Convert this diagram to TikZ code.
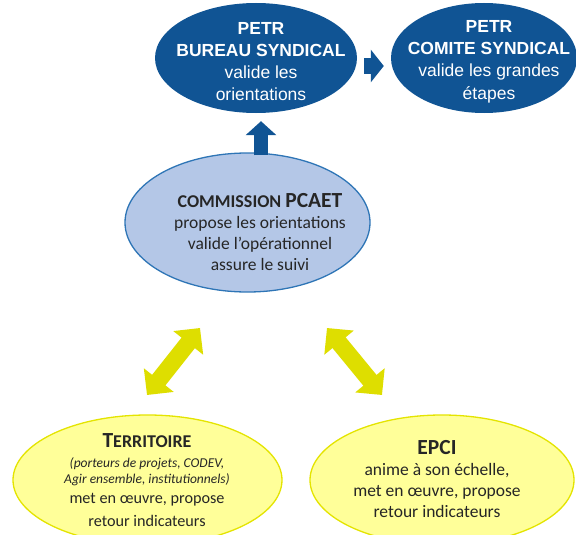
\documentclass[tikz,border=0pt]{standalone}
\usepackage{fontspec}
\setmainfont{Carlito}
\newfontfamily\arialf{Liberation Sans}
\usetikzlibrary{shapes.geometric,arrows.meta}
\definecolor{petrblue}{RGB}{16,84,148}
\definecolor{commfill}{RGB}{180,199,231}
\definecolor{commedge}{RGB}{46,117,182}
\definecolor{yelfill}{RGB}{255,255,153}
\definecolor{yeledge}{RGB}{228,228,0}
\definecolor{yelarrow}{RGB}{222,222,0}
\newcommand{\itl}{\itshape\fontsize{13.5}{15}\selectfont}
\newcommand{\regl}{\upshape\fontsize{16.2}{22}\selectfont}
\tikzset{
  petrell/.style={ellipse, fill=petrblue, draw=none, inner sep=0pt},
  commell/.style={ellipse, fill=commfill, draw=commedge, line width=1.3pt, inner sep=0pt},
  yelell/.style={ellipse, fill=yelfill, draw=yeledge, line width=1.3pt, inner sep=0pt},
  petrtxt/.style={text=white, align=center, font=\arialf\fontsize{17.5}{22.2}\selectfont, inner sep=0pt},
  lowtxt/.style={text=black!85, align=center, inner sep=0pt},
  bluearrow/.style={draw=petrblue, line width=14pt, -{Triangle[width=30pt,length=14pt]}},
  yelarr/.style={draw=yelarrow, line width=17pt, {Triangle[width=37pt,length=19pt]}-{Triangle[width=37pt,length=19pt]}}
}
\begin{document}
\begin{tikzpicture}[x=1pt,y=-1pt]
\useasboundingbox (0,0) rectangle (576,535);
% ellipses
\node[petrell, minimum width=202pt, minimum height=110pt] (bureau) at (256,58) {};
\node[petrell, minimum width=186pt, minimum height=110pt] (comite) at (484,58) {};
\node[commell, minimum width=245pt, minimum height=139pt] (comm) at (247.5,222.5) {};
\node[yelell, minimum width=269pt, minimum height=130pt] (terr) at (147.5,480) {};
\node[yelell, minimum width=264pt, minimum height=130pt] (epci) at (442,480) {};
% texts
\node[petrtxt] (bureautxt) at (261,61.5) {\textbf{PETR}\\\textbf{BUREAU SYNDICAL}\\valide les\\orientations};
\node[petrtxt] (comitetxt) at (489,61.5) {\textbf{PETR}\\\textbf{COMITE SYNDICAL}\\valide les grandes\\étapes};
\node[lowtxt, font=\fontsize{17.5}{21}\selectfont] (commtxt) at (260,232)
  {\textbf{\fontsize{18}{21}\selectfont COMMISSION \fontsize{21.5}{21}\selectfont PCAET}\\\fontsize{17.5}{21}\selectfont propose les orientations\\valide l’opérationnel\\assure le suivi};
\node[lowtxt, font=\fontsize{16.2}{22}\selectfont] (terrtxt) at (147,480)
  {\textbf{\fontsize{21.5}{22}\selectfont T\fontsize{18}{22}\selectfont ERRITOIRE}\\[-2pt]
   \itl (porteurs de projets, CODEV,\\[-6pt]
   \itl Agir ensemble, institutionnels)\\[-2pt]
   \regl met en œuvre, propose\\[1pt]
   \regl retour indicateurs};
\node[lowtxt, font=\fontsize{17.5}{21}\selectfont] (epcitxt) at (437,479)
  {\textbf{\fontsize{21.5}{24}\selectfont EPCI}\\\fontsize{17.5}{21}\selectfont anime à son échelle,\\met en œuvre, propose\\retour indicateurs};
% connectors
\coordinate (upS) at ([xshift=13.5pt,yshift=-3pt]comm.north);
\coordinate (upE) at ([xshift=5pt,yshift=-8pt]bureau.south);
\draw[bluearrow] (upS) -- (upE);
\coordinate (rtS) at ([xshift=7pt,yshift=-8pt]bureau.east);
\coordinate (rtE) at ([xshift=-7pt,yshift=-8pt]comite.west);
\draw[bluearrow, line width=16pt, -{Triangle[width=32pt,length=13pt]}] (rtS) -- (rtE);
\coordinate (ylA) at (147,395);
\coordinate (ylB) at (200,328);
\draw[yelarr] (ylA) -- (ylB);
\coordinate (yrA) at (382,395);
\coordinate (yrB) at (327,328);
\draw[yelarr] (yrA) -- (yrB);
\end{tikzpicture}
\end{document}
